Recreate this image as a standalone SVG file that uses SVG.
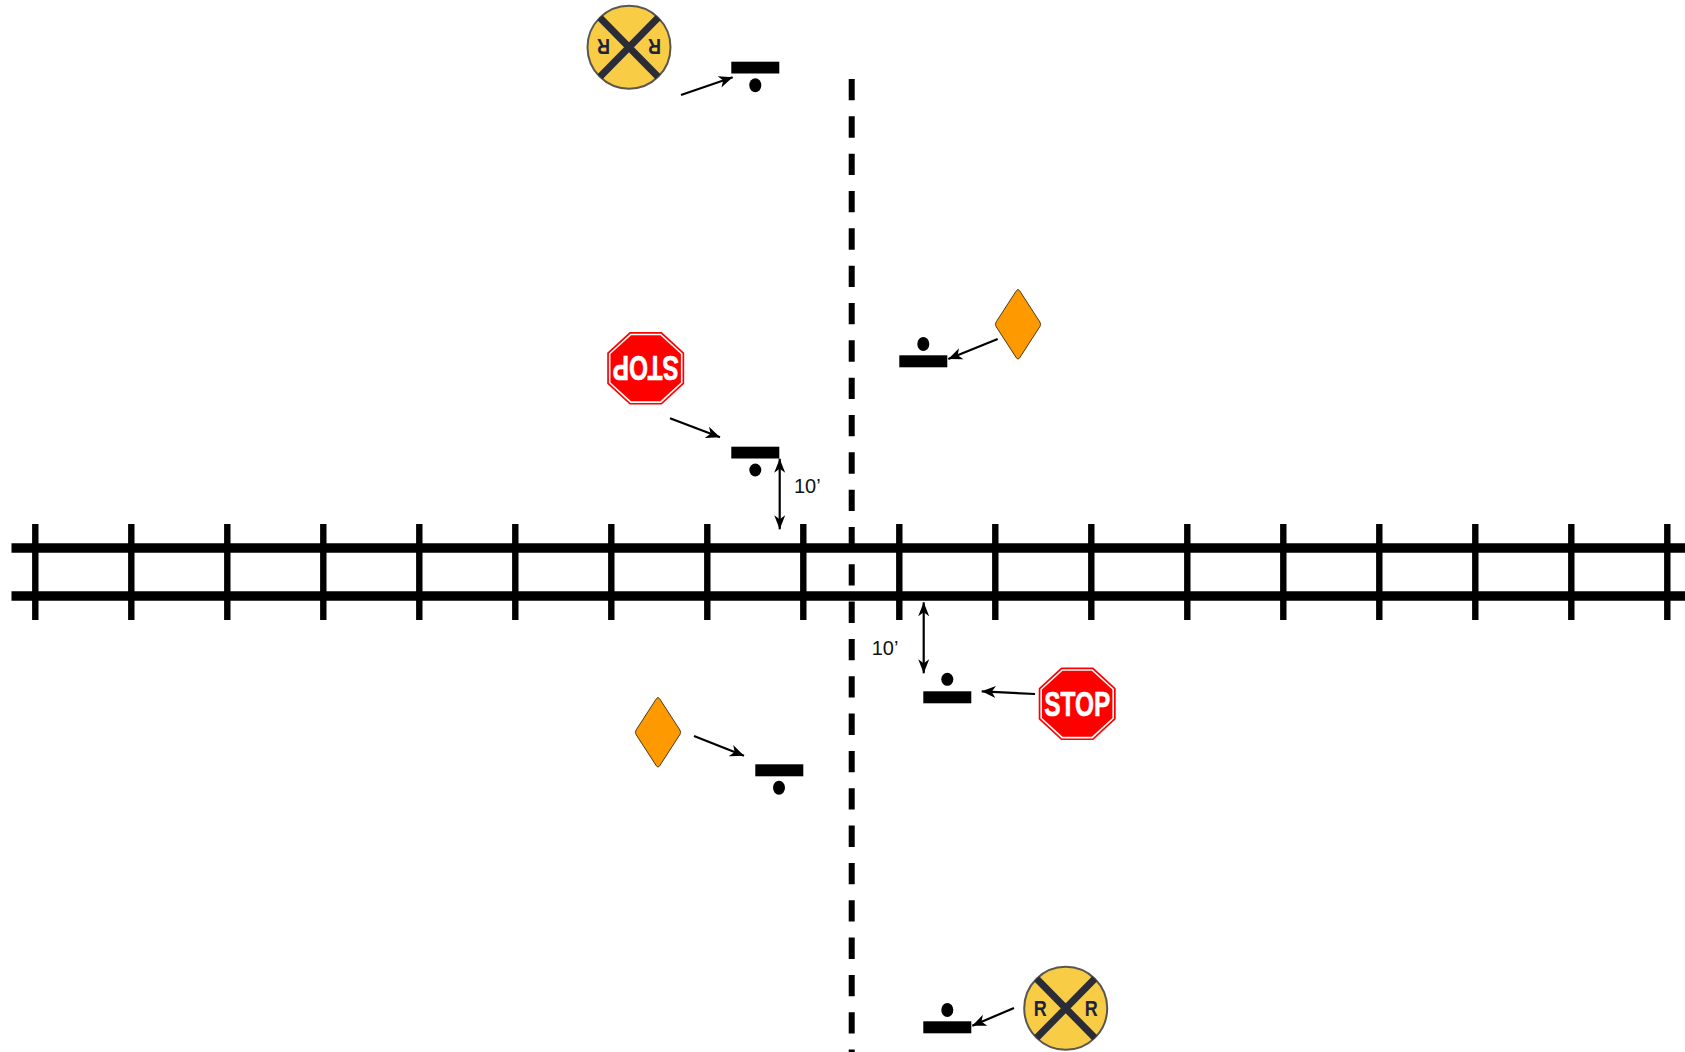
<svg xmlns="http://www.w3.org/2000/svg" width="1685" height="1052" viewBox="0 0 1685 1052">
<style>
.rail{stroke:#000;stroke-width:9.5;fill:none}
.tie{stroke:#000;stroke-width:6.4;fill:none}
.road{stroke:#000;stroke-width:6;stroke-dasharray:21.33 16;fill:none}
.bar{fill:#000}
.dot{fill:#000}
.dia{fill:#ff9900;stroke:#4a3a1a;stroke-width:1;stroke-linejoin:round}
.arr{stroke:#000;stroke-width:2.2;fill:none;marker-end:url(#head)}
.dbl{stroke:#000;stroke-width:2.2;fill:none;marker-start:url(#headd);marker-end:url(#headd)}
.dim{font:20px "Liberation Sans",Arial,sans-serif;fill:#111}
.stop{font:bold 35px "Liberation Sans",Arial,sans-serif;fill:#fff;stroke:#fff;stroke-width:0.7;text-anchor:middle}
.rr{font:bold 22.5px "Liberation Sans",Arial,sans-serif;fill:#1c2340;text-anchor:middle}
.disc{fill:#f8cc45;stroke:#5a5650;stroke-width:2}
.cross{stroke:#2a2c38;stroke-width:7;fill:none}
</style>
<defs>
<marker id="head" markerUnits="userSpaceOnUse" markerWidth="15" markerHeight="13" viewBox="0 0 15 13" refX="14" refY="6.5" orient="auto"><path d="M0,0.5 L14,6.5 L0,12.5 L4,6.5 Z" fill="#000"/></marker>
<marker id="headd" markerUnits="userSpaceOnUse" markerWidth="15" markerHeight="13" viewBox="0 0 15 13" refX="14" refY="6.5" orient="auto-start-reverse"><path d="M0,1 L14,6.5 L0,12 L4,6.5 Z" fill="#000"/></marker>
<g id="octagon"><polygon points="-16,-36.3 16,-36.3 38.5,-15.5 38.5,15.5 16,36.3 -16,36.3 -38.5,15.5 -38.5,-15.5" fill="#f00"/><polygon points="-15.3,-34.6 15.3,-34.6 36.8,-14.8 36.8,14.8 15.3,34.6 -15.3,34.6 -36.8,14.8 -36.8,-14.8" fill="#fff"/><polygon points="-14.6,-33 14.6,-33 35.2,-14.2 35.2,14.2 14.6,33 -14.6,33 -35.2,14.2 -35.2,-14.2" fill="#f00"/></g>
<g id="disc"><circle r="41.5" class="disc"/><path class="cross" d="M-29,-29.5 L29,29.5 M29,-29.5 L-29,29.5"/></g>
<path id="diamond" class="dia" d="M-1.6,-33.6 Q0,-36 1.6,-33.6 L21.8,-2.4 Q23.4,0 21.8,2.4 L1.6,33.6 Q0,36 -1.6,33.6 L-21.8,2.4 Q-23.4,0 -21.8,-2.4 Z"/>
</defs>
<rect width="1685" height="1052" fill="#fff"/>
<g id="road"><line class="road" x1="851.7" y1="79" x2="851.7" y2="1052"/></g>
<g id="track">
<line class="rail" x1="11.5" y1="548" x2="1685" y2="548"/>
<line class="rail" x1="11.5" y1="596" x2="1685" y2="596"/>
<path class="tie" d="M35.3,524V620M131.3,524V620M227.3,524V620M323.3,524V620M419.3,524V620M515.3,524V620M611.3,524V620M707.3,524V620M803.3,524V620M899.3,524V620M995.3,524V620M1091.3,524V620M1187.3,524V620M1283.3,524V620M1379.3,524V620M1475.3,524V620M1571.3,524V620M1667.3,524V620"/>
</g>
<g id="connectors">
<line class="arr" x1="681" y1="95" x2="732.7" y2="77.3"/>
<line class="arr" x1="670" y1="418.3" x2="720" y2="437.3"/>
<line class="arr" x1="997.7" y1="339" x2="948.3" y2="359"/>
<line class="arr" x1="1035" y1="694" x2="981.7" y2="691.3"/>
<line class="arr" x1="694" y1="736" x2="744" y2="755.7"/>
<line class="arr" x1="1014" y1="1008" x2="972.3" y2="1025.7"/>
<line class="dbl" x1="779.7" y1="458.7" x2="779.7" y2="529.3"/>
<line class="dbl" x1="923.7" y1="602.3" x2="923.7" y2="673.3"/>
</g>
<g id="sign-top"><rect class="bar" x="731.3" y="61.7" width="48" height="11.8"/><ellipse class="dot" cx="755.3" cy="85.3" rx="6" ry="7"/></g>
<g id="rr-top" transform="translate(629 47.2) rotate(180)"><use href="#disc"/><text class="rr" x="-25.5" y="8" textLength="13" lengthAdjust="spacingAndGlyphs">R</text><text class="rr" x="25.5" y="8" textLength="13" lengthAdjust="spacingAndGlyphs">R</text></g>
<g id="sign-stop-left"><rect class="bar" x="731.3" y="446.7" width="48" height="11.8"/><ellipse class="dot" cx="755.3" cy="470" rx="6" ry="6.5"/></g>
<g id="stop-left" transform="translate(645.7 368.3) rotate(180)"><use href="#octagon"/><text class="stop" x="0" y="12.5" textLength="66" lengthAdjust="spacingAndGlyphs">STOP</text></g>
<g id="sign-dia-right"><rect class="bar" x="899.3" y="355.3" width="48" height="12"/><ellipse class="dot" cx="923.3" cy="344" rx="6" ry="7"/></g>
<g id="dia-right"><use href="#diamond" x="1018" y="324.3"/></g>
<g id="sign-stop-right"><rect class="bar" x="923.3" y="691.3" width="48" height="12"/><ellipse class="dot" cx="947.3" cy="679.3" rx="6" ry="6.5"/></g>
<g id="stop-right" transform="translate(1077.2 703.8)"><use href="#octagon"/><text class="stop" x="0" y="12.5" textLength="66" lengthAdjust="spacingAndGlyphs">STOP</text></g>
<g id="sign-dia-left"><rect class="bar" x="755.3" y="764.3" width="48" height="12"/><ellipse class="dot" cx="779" cy="787.7" rx="6" ry="7"/></g>
<g id="dia-left"><use href="#diamond" x="658" y="732.3"/></g>
<g id="sign-bottom"><rect class="bar" x="923.3" y="1021.3" width="48" height="12"/><ellipse class="dot" cx="947.3" cy="1010" rx="6" ry="7"/></g>
<g id="rr-bottom" transform="translate(1065.7 1008.3)"><use href="#disc"/><text class="rr" x="-25.5" y="8" textLength="13" lengthAdjust="spacingAndGlyphs">R</text><text class="rr" x="25.5" y="8" textLength="13" lengthAdjust="spacingAndGlyphs">R</text></g>
<g id="dim-top"><text class="dim" x="794" y="493.3">10’</text></g>
<g id="dim-bottom"><text class="dim" x="871.7" y="655">10’</text></g>
</svg>
